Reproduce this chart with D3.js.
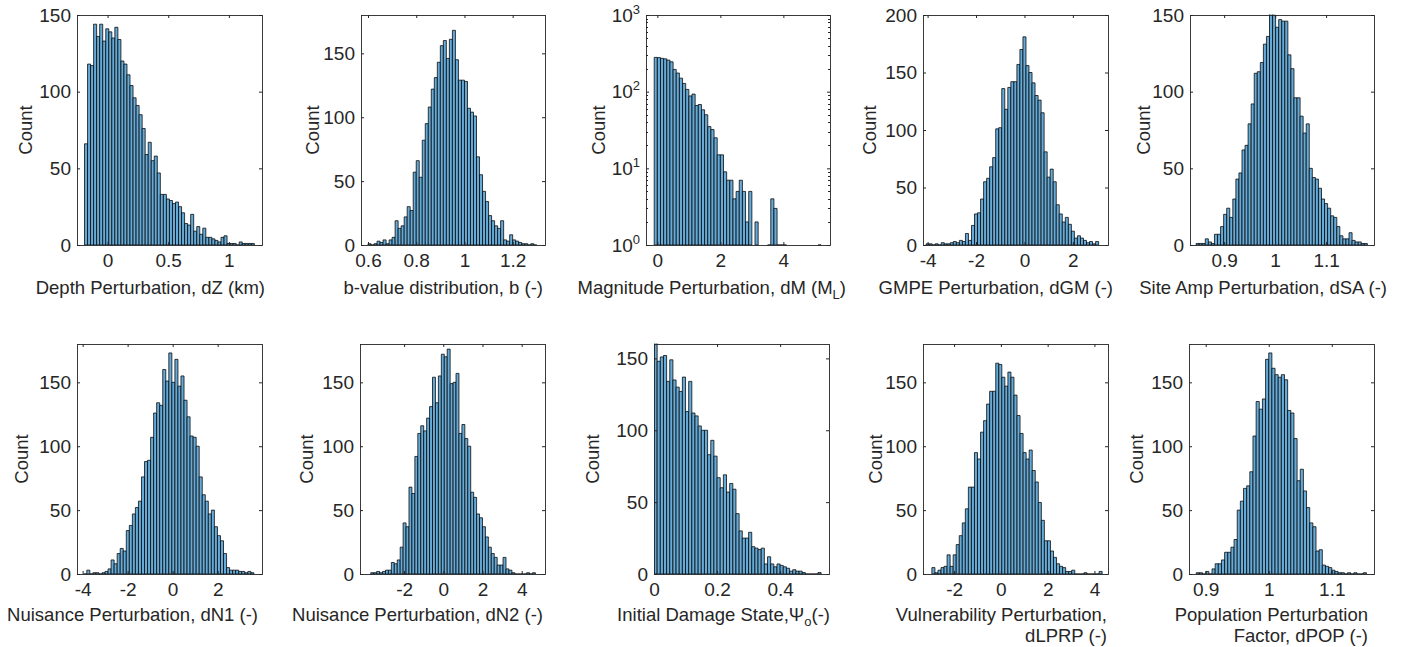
<!DOCTYPE html>
<html><head><meta charset="utf-8">
<script src="https://cdn.jsdelivr.net/npm/d3@7"></script>
<style>
body{margin:0;background:#fff;}
text{font-family:"Liberation Sans",Arial,Helvetica,sans-serif;}
</style>
</head><body>
<script>
// ---------------- data (counts per bin) ----------------
const depthCounts = [66,118,117,144,136,144,133,141,139,135,142,134,120,118,111,104,96,91,85,76,59,67,55,58,47,33,33,30,29,27,28,25,21,14,13,20,9,12,7,11,5,5,4,3,2,5,6,1,1,1,0,2,1,1,1,1];
const bValueCounts = [1,0,1,3,2,4,1,4,6,19,13,15,22,30,27,57,66,53,82,95,108,122,131,143,156,160,146,161,168,145,129,129,128,107,104,101,69,55,42,34,23,19,15,13,19,4,3,8,4,3,2,1,1,0,1,0];
const magnitudeCounts = [280,278,272,268,258,245,195,175,150,128,107,88,93,66,68,58,50,35,32,25,15,15,9,7,7,4,5,7,5,2,5,0,2,0,0,0,1,4,3,1,1,1,0,0,0,0,0,0,0,0,0,0,1];
const gmpeCounts = [1,1,0,1,0,2,1,1,2,3,2,4,3,10,4,17,27,28,40,55,58,68,76,101,102,136,118,137,142,142,157,170,181,156,150,141,130,126,115,81,59,66,55,35,27,20,24,18,12,6,8,6,4,2,3,1,3];
const siteAmpCounts = [1,1,1,4,2,1,7,7,12,20,24,18,30,43,47,62,65,79,92,112,113,119,131,136,151,150,142,147,146,146,124,115,96,96,84,73,79,50,44,43,37,30,27,24,19,18,12,6,4,4,8,3,2,2,1,1];
const nuisance1Counts = [0,3,0,1,1,0,1,2,4,11,8,16,20,18,34,38,47,52,57,76,88,89,107,126,134,132,160,151,173,150,168,147,155,136,123,108,107,100,76,62,57,47,50,37,30,26,16,5,3,3,3,2,2,1,2,1];
const nuisance2Counts = [1,1,2,1,2,3,3,9,8,11,21,40,37,68,63,92,110,116,112,122,131,154,134,155,172,170,176,149,150,157,110,117,106,100,64,60,47,44,37,29,21,16,13,7,7,13,4,3,1,0,0,0,0,1,0,1];
const damageCounts = [165,148,151,152,134,149,135,130,127,137,113,134,112,110,103,100,100,83,93,82,67,60,69,57,63,59,42,30,25,25,29,19,18,17,18,7,12,7,5,7,6,5,4,2,3,2,2,1,0,0,0,0,1];
const vulnerabilityCounts = [5,1,3,5,6,15,6,15,23,30,40,51,68,68,95,90,111,120,133,143,143,165,164,154,147,158,154,140,124,110,95,90,97,81,72,56,42,26,26,18,13,8,6,5,2,2,3,0,0,0,1,0,0,0,0,2];
const populationCounts = [1,1,0,2,0,4,8,8,11,17,17,21,27,50,57,67,69,80,108,135,129,137,168,173,161,156,154,156,152,128,126,106,73,82,65,52,40,37,18,19,7,6,5,3,2,1,1,0,1,0,1,0,0,1];

const binStarts = [-0.19, 0.6, -0.1, -4.0625, 0.845, -3.95, -3.7, 0, -2.95, 0.885];
const binWidths = [0.025, 0.0125, 0.1, 0.125, 0.006, 0.135, 0.15, 0.01, 0.13, 0.005];

const xTickValues = [[0,0.5,1],[0.6,0.8,1,1.2],[0,2,4],[-4,-2,0,2],[0.9,1,1.1],[-4,-2,0,2],[-2,0,2,4],[0,0.2,0.4],[-2,0,2,4],[0.9,1,1.1]];
const yTickValues = [[0,50,100,150],[0,50,100,150],[1,10,100,1000],[0,50,100,150,200],[0,50,100,150],[0,50,100,150],[0,50,100,150],[0,50,100,150],[0,50,100,150],[0,50,100,150]];
const xLabels = ["Depth Perturbation, dZ (km)","b-value distribution, b (-)","Magnitude Perturbation, dM (M_{L})","GMPE Perturbation, dGM (-)","Site Amp Perturbation, dSA (-)","Nuisance Perturbation, dN1 (-)","Nuisance Perturbation, dN2 (-)","Initial Damage State,Ψ_{o}(-)","Vulnerability Perturbation,\ndLPRP (-)","Population Perturbation\nFactor, dPOP (-)"];
const yLabel = "Count";

// ---------------- layout ----------------
const allCounts = [depthCounts,bValueCounts,magnitudeCounts,gmpeCounts,siteAmpCounts,nuisance1Counts,nuisance2Counts,damageCounts,vulnerabilityCounts,populationCounts];
const boxes = [[77,262,15,245],[361,545,15,245],[646,830,15,245],[923,1108,15,245],[1190,1374,15,245],
               [77,262,344,574],[360,545,344,574],[654,829,344,574],[923,1108,344,574],[1189,1374,344,574]];
const xDomains = [[-0.252,1.273],[0.571,1.334],[-0.36,5.48],[-4.19,3.45],[0.833,1.194],[-4.25,3.97],[-4.25,5.19],[0,0.555],[-3.33,4.58],[0.8735,1.167]];
const yDomains = [[0,150],[0,180],[1,1000],[0,200],[0,150],[0,180],[0,180],[0,160],[0,180],[0,180]];
const logPanel = 2;
const yLabelX = [32,319,605,876,1150,28,313,599,882,1143];
const xLabelRight = [265,543,846,1113,1387,258,543,830,1107,1368];

const FILL = "rgb(102,170,215)";
const AXC = "#262626";
const TICKFS = 19, LABELFS = 18.5;

const svg = d3.select("body").append("svg").attr("width",1402).attr("height",647);

function styleAxis(g){
  g.select(".domain").remove();
  g.selectAll("line").attr("stroke",AXC);
  g.selectAll("text").attr("font-size",TICKFS).attr("font-family",'"Liberation Sans",Arial,sans-serif').attr("fill",AXC);
}

allCounts.forEach((counts,p)=>{
  const [L,R,T,B] = boxes[p];
  const isLog = p===logPanel;
  const x = d3.scaleLinear().domain(xDomains[p]).range([L,R]);
  const y = isLog ? d3.scaleLog().domain(yDomains[p]).range([B,T]) : d3.scaleLinear().domain(yDomains[p]).range([B,T]);
  const clipId = "clip"+p;
  svg.append("clipPath").attr("id",clipId).append("rect").attr("x",L).attr("y",T-0.5).attr("width",R-L).attr("height",B-T+1);

  const bins = counts.map((c,i)=>({x0:binStarts[p]+i*binWidths[p], x1:binStarts[p]+(i+1)*binWidths[p], c}));
  const base = y(yDomains[p][0]);
  svg.append("g").attr("clip-path",`url(#${clipId})`)
    .selectAll("path").data(bins.filter(d=>!isLog || d.c>0)).join("path")
    .attr("d",d=>{const a=x(d.x0), b=x(d.x1), t=y(d.c); return `M${a},${base}V${t}H${b}V${base}Z`;})
    .attr("fill",FILL).attr("stroke","#000").attr("stroke-width",0.75);

  // box
  svg.append("rect").attr("x",L+0.5).attr("y",T+0.5).attr("width",R-L).attr("height",B-T)
    .attr("fill","none").attr("stroke",AXC).attr("stroke-width",0.9);

  // axes
  const gb = svg.append("g").attr("transform",`translate(0,${B})`)
    .call(d3.axisBottom(x).tickValues(xTickValues[p]).tickFormat(d=>String(d)).tickSizeInner(-3).tickSizeOuter(0).tickPadding(9));
  styleAxis(gb);
  const gt = svg.append("g").attr("transform",`translate(0,${T})`)
    .call(d3.axisTop(x).tickValues(xTickValues[p]).tickFormat("").tickSizeInner(-3).tickSizeOuter(0));
  styleAxis(gt);
  const gl = svg.append("g").attr("transform",`translate(${L},0)`)
    .call(d3.axisLeft(y).tickValues(yTickValues[p]).tickFormat(isLog?()=>"":d=>String(d)).tickSizeInner(-3).tickSizeOuter(0).tickPadding(6));
  styleAxis(gl);
  const gr = svg.append("g").attr("transform",`translate(${R},0)`)
    .call(d3.axisRight(y).tickValues(yTickValues[p]).tickFormat("").tickSizeInner(-3).tickSizeOuter(0));
  styleAxis(gr);

  if(isLog){
    gl.selectAll(".tick text").each(function(d){
      const t = d3.select(this);
      t.text(null);
      t.append("tspan").text("10");
      t.append("tspan").attr("dy",-8).attr("font-size",13).text(Math.round(Math.log10(d)));
    });
    const minor = [];
    for(let k=0;k<3;k++) for(let m=2;m<=9;m++) minor.push(m*Math.pow(10,k));
    const mg = svg.append("g");
    minor.forEach(v=>{
      const yy = Math.round(y(v))+0.5;
      mg.append("line").attr("x1",L).attr("x2",L+2).attr("y1",yy).attr("y2",yy).attr("stroke",AXC);
      mg.append("line").attr("x1",R-2).attr("x2",R).attr("y1",yy).attr("y2",yy).attr("stroke",AXC);
    });
  }

  // y label
  svg.append("text").attr("transform",`translate(${yLabelX[p]},${(T+B)/2}) rotate(-90)`)
    .attr("text-anchor","middle").attr("font-size",LABELFS).attr("fill",AXC).text(yLabel);

  // x label (right-aligned, with optional subscripts and line breaks)
  const lines = xLabels[p].split("\n");
  const row2 = T > 300;
  lines.forEach((ln,li)=>{
    const baseY = (row2 ? 621 : 294) + li*21;
    const t = svg.append("text").attr("x",xLabelRight[p]).attr("y",baseY)
      .attr("text-anchor","end").attr("font-size",LABELFS).attr("fill",AXC);
    const parts = ln.split(/_\{([^}]*)\}/);
    let shifted = false;
    parts.forEach((s,i)=>{
      if(s==="") return;
      const sp = t.append("tspan").text(s);
      if(i%2===1){ sp.attr("dy",5).attr("font-size",13); shifted = true; }
      else if(shifted){ sp.attr("dy",-5); shifted = false; }
    });
  });
});
</script>
</body></html>
